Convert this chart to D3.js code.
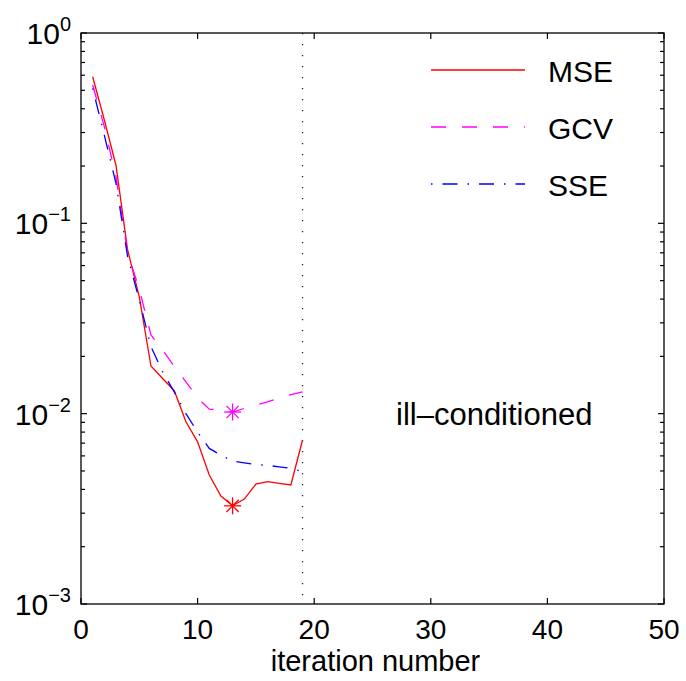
<!DOCTYPE html>
<html><head><meta charset="utf-8">
<script src="https://cdn.jsdelivr.net/npm/d3@7"></script>
<style>body{margin:0;background:#fff;} svg{display:block;} text{font-family:"Liberation Sans",Arial,Helvetica,sans-serif;fill:#000;}</style>
</head><body>
<svg id="chart" width="686" height="681"></svg>
<script>
const iterations = [1,2,3,4,5,6,7,8,9,10,11,12,13,14,15,16,17,18,19];
const mse = [0.589,0.349,0.202,0.0724,0.0411,0.0178,0.0153,0.0132,0.00906,0.00711,0.00476,0.00369,0.00328,0.00356,0.00427,0.00439,0.0043,0.00422,0.00727];
const gcv = [0.533,0.322,0.176,0.0697,0.045,0.0259,0.0216,0.0177,0.0147,0.0121,0.01056,0.01045,0.0102,0.01066,0.0111,0.01155,0.0121,0.0126,0.0130];
const sse = [0.512,0.291,0.162,0.0668,0.0395,0.0225,0.0166,0.0130,0.0100,0.0080,0.00657,0.00605,0.00563,0.00552,0.00541,0.00535,0.00526,0.00516,0.00495];
const seriesNames = ["MSE","GCV","SSE"];
const xTicks = [0,10,20,30,40,50];
const yTickExps = [0,-1,-2,-3];
const stopIteration = 19;
const minMarkers = [{series:"MSE", iter:13}, {series:"GCV", iter:13}];
const annotation = "ill\u2013conditioned";
const xLabel = "iteration number";

const svg = d3.select("#chart");
const L=81, R=664, T=33, B=604;
const x = d3.scaleLinear().domain([0,50]).range([L,R]);
const y = d3.scaleLog().domain([1e-3,1]).range([B,T]);
const FS = 30;

const styles = {
  MSE:{color:"#ff0000", dash:null},
  GCV:{color:"#ff00ff", dash:"15 16"},
  SSE:{color:"#0000ff", dash:"1.5 10 15 10"}
};
const dataBy = {MSE:mse, GCV:gcv, SSE:sse};

// stop line
svg.append("line").attr("x1",x(stopIteration)).attr("x2",x(stopIteration))
  .attr("y1",T).attr("y2",B).attr("stroke","#222").attr("stroke-width",1.3)
  .attr("stroke-dasharray","1.3 9.7");

const line = d3.line().x((d,i)=>x(iterations[i])).y(d=>y(d));
seriesNames.forEach(n=>{
  svg.append("path").datum(dataBy[n]).attr("d",line).attr("fill","none")
    .attr("stroke",styles[n].color).attr("stroke-width",1.3)
    .attr("stroke-dasharray",styles[n].dash);
});

// star markers
minMarkers.forEach(m=>{
  const v = dataBy[m.series][iterations.indexOf(m.iter)];
  const cx=x(m.iter), cy=y(v), r=8.5, d=r*0.72;
  const g=svg.append("g").attr("stroke",styles[m.series].color).attr("stroke-width",1.3);
  [[-r,0,r,0],[0,-r,0,r],[-d,-d,d,d],[-d,d,d,-d]].forEach(s=>
    g.append("line").attr("x1",cx+s[0]).attr("y1",cy+s[1]).attr("x2",cx+s[2]).attr("y2",cy+s[3]));
});

// axes box
svg.append("rect").attr("x",L).attr("y",T).attr("width",R-L).attr("height",B-T)
  .attr("fill","none").attr("stroke","#000").attr("stroke-width",1.3);

// x ticks
const tg = svg.append("g").attr("stroke","#000").attr("stroke-width",1.2);
xTicks.forEach(t=>{
  tg.append("line").attr("x1",x(t)).attr("x2",x(t)).attr("y1",B).attr("y2",B-6);
  tg.append("line").attr("x1",x(t)).attr("x2",x(t)).attr("y1",T).attr("y2",T+6);
  svg.append("text").attr("x",x(t)).attr("y",639).attr("text-anchor","middle")
    .attr("font-size",28).text(t);
});
// y ticks major/minor
for(let e=-3;e<=0;e++){
  const v=Math.pow(10,e);
  tg.append("line").attr("x1",L).attr("x2",L+6).attr("y1",y(v)).attr("y2",y(v));
  tg.append("line").attr("x1",R).attr("x2",R-6).attr("y1",y(v)).attr("y2",y(v));
  if(e<0){
    for(let k=2;k<=9;k++){
      const mv=k*v;
      tg.append("line").attr("x1",L).attr("x2",L+4).attr("y1",y(mv)).attr("y2",y(mv));
      tg.append("line").attr("x1",R).attr("x2",R-4).attr("y1",y(mv)).attr("y2",y(mv));
    }
  }
}
yTickExps.forEach(e=>{
  const t=svg.append("text").attr("x",71).attr("y",y(Math.pow(10,e))+11)
    .attr("text-anchor","end").attr("font-size",FS);
  t.append("tspan").text("10");
  t.append("tspan").attr("dy",-13).attr("font-size",20).text(e<0?"\u2212"+(-e):String(e));
});

// x label
svg.append("text").attr("x",(L+R)/2+3).attr("y",671).attr("text-anchor","middle")
  .attr("font-size",29).text(xLabel);

// annotation
svg.append("text").attr("x",396).attr("y",425).attr("font-size",31).text(annotation);

// legend
const legY=[70,127,184];
seriesNames.forEach((n,i)=>{
  svg.append("line").attr("x1",431).attr("x2",525).attr("y1",legY[i]).attr("y2",legY[i])
    .attr("stroke",styles[n].color).attr("stroke-width",1.3).attr("stroke-dasharray",styles[n].dash);
  svg.append("text").attr("x",548).attr("y",legY[i]+12).attr("font-size",FS).text(n);
});
</script>
</body></html>
